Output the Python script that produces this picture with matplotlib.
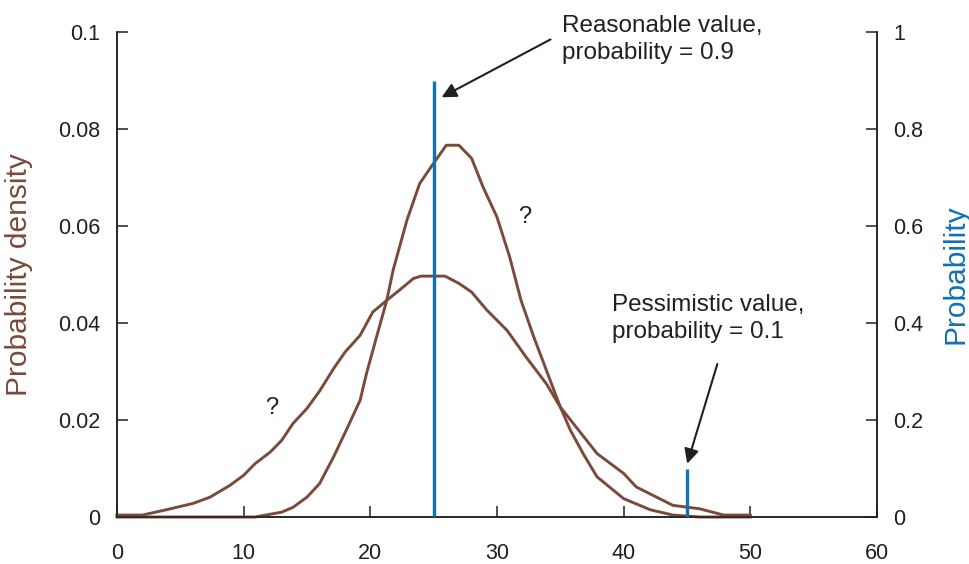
import matplotlib
matplotlib.use("Agg")
import matplotlib.pyplot as plt

plt.rcParams['font.family'] = ['Liberation Sans', 'DejaVu Sans']

# ---- data ----
wide_x = [0, 2.0, 3.9, 6.0, 7.35, 8.9, 10.0, 10.9, 12.1, 13.0, 13.9, 15.0, 16.0, 17.1, 18.0,
          19.2, 20.2, 21.3, 22.3, 23.4, 24.0, 25.9, 27.0, 28.0, 29.2, 30.8, 32.3, 33.9, 35.0,
          37.9, 40.0, 41.0, 42.6, 43.9, 46.0, 47.9, 50.0]
wide_y = [0.0004, 0.0004, 0.0015, 0.0028, 0.0041, 0.0065, 0.0086, 0.011, 0.0134, 0.0158, 0.0193,
          0.0224, 0.026, 0.0306, 0.034, 0.0375, 0.0423, 0.0447, 0.0468, 0.0492, 0.0497, 0.0497,
          0.0482, 0.0464, 0.0427, 0.0385, 0.033, 0.0275, 0.0227, 0.0131, 0.009, 0.0062, 0.0041,
          0.0024, 0.0017, 0.0004, 0.0004]

narrow_x = [0, 10.9, 13.0, 13.9, 15.0, 16.0, 17.1, 18.1, 19.2, 19.7, 20.5, 21.3, 21.8, 22.9,
            23.9, 25.0, 26.0, 27.0, 28.0, 28.9, 30.0, 31.0, 31.9, 32.9, 33.9, 35.0, 35.8, 36.8,
            37.9, 40.0, 42.1, 43.9, 46.0, 50.0]
narrow_y = [0, 0, 0.001, 0.002, 0.0041, 0.0069, 0.0124, 0.0179, 0.0241, 0.0296, 0.0372, 0.0447,
            0.0509, 0.0613, 0.0688, 0.073, 0.0767, 0.0767, 0.074, 0.0681, 0.0619, 0.0537, 0.0447,
            0.0372, 0.0303, 0.0227, 0.0179, 0.0131, 0.0083, 0.0038, 0.0015, 0.0004, 0, 0]

marker_x = [25, 45]          # reasonable, pessimistic values
marker_prob = [0.9, 0.1]

x_ticks = [0, 10, 20, 30, 40, 50, 60]
left_ticks = [0, 0.02, 0.04, 0.06, 0.08, 0.1]
left_labels = ['0', '0.02', '0.04', '0.06', '0.08', '0.1']
right_ticks = [0, 0.2, 0.4, 0.6, 0.8, 1.0]
right_labels = ['0', '0.2', '0.4', '0.6', '0.8', '1']

BROWN = '#7A4A3A'
BLUE = '#1070B8'
DARK = '#231F20'

fig = plt.figure(figsize=(9.69, 5.64), dpi=100)
ax = fig.add_axes([0.1207, 0.0833, 0.7843, 0.8594])
ax2 = ax.twinx()

ax.plot(wide_x, wide_y, color=BROWN, lw=2.1, clip_on=False, zorder=3)
ax.plot(narrow_x, narrow_y, color=BROWN, lw=2.1, clip_on=False, zorder=3)
ax2.vlines(marker_x, 0, marker_prob, color=BLUE, lw=2.4, zorder=4)

ax.set_xlim(0, 60)
ax.set_ylim(0, 0.1)
ax2.set_ylim(0, 1)

for a in (ax, ax2):
    a.spines['top'].set_visible(False)
    for s in ('left', 'right', 'bottom'):
        a.spines[s].set_color(DARK)
        a.spines[s].set_linewidth(1.1)
    a.set_facecolor('none')

ax.set_xticks(x_ticks)
ax.set_xticklabels([str(t) for t in x_ticks])
ax.set_yticks(left_ticks)
ax.set_yticklabels(left_labels)
ax2.set_yticks(right_ticks)
ax2.set_yticklabels(right_labels)

ax.tick_params(axis='x', direction='in', length=8, width=1.1, color=DARK, pad=19,
               labelsize=15.5, labelcolor=DARK)
ax.tick_params(axis='y', direction='in', length=8, width=1.1, color=DARK, pad=12,
               labelsize=15.5, labelcolor=DARK)
ax2.tick_params(axis='y', direction='in', length=8, width=1.1, color=DARK, pad=12,
                labelsize=15.5, labelcolor=DARK)

ax.set_ylabel('Probability density', color=BROWN, fontsize=21.5)
ax.yaxis.set_label_coords(-0.111, 0.5)
ax2.set_ylabel('Probability', color=BLUE, fontsize=21.5)
ax2.yaxis.set_label_coords(1.085, 0.5)

# annotations
ax.annotate('Reasonable value,\nprobability = 0.9', xy=(25.63, 0.0866), xytext=(35.1, 0.1036),
            ha='left', va='top', fontsize=17.5, color=DARK, linespacing=1.3,
            annotation_clip=False,
            arrowprops=dict(arrowstyle='-|>', color=DARK, lw=1.5, mutation_scale=22,
                            shrinkA=0, shrinkB=0, relpos=(-0.055, 0.5)))
ax.annotate('Pessimistic value,\nprobability = 0.1', xy=(45.02, 0.0110), xytext=(39.1, 0.0461),
            ha='left', va='top', fontsize=17.5, color=DARK, linespacing=1.3,
            annotation_clip=False,
            arrowprops=dict(arrowstyle='-|>', color=DARK, lw=1.5, mutation_scale=22,
                            shrinkA=14, shrinkB=0, relpos=(0.58, 0.0)))

ax.text(32.2, 0.0619, '?', fontsize=17, color=DARK, ha='center', va='center')
ax.text(12.24, 0.0224, '?', fontsize=17, color=DARK, ha='center', va='center')

fig.savefig('out.png', dpi=100)
